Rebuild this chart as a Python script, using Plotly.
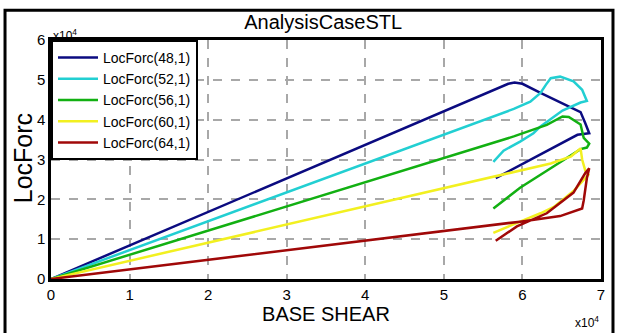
import plotly.graph_objects as go

# values in units of x10^4
names = ["LocForc(48,1)", "LocForc(52,1)", "LocForc(56,1)", "LocForc(60,1)", "LocForc(64,1)"]
colors = ["#0b0b80", "#22cfd2", "#12b012", "#f2f020", "#a00808"]

x48 = [0, 5.82, 5.90, 6.00, 6.23, 6.74, 6.80, 6.85, 6.70, 6.36, 5.97, 5.66]
y48 = [0, 4.90, 4.93, 4.90, 4.67, 4.19, 3.91, 3.66, 3.62, 3.26, 2.86, 2.53]

x52 = [0, 5.89, 6.10, 6.23, 6.30, 6.36, 6.48, 6.65, 6.76, 6.82, 6.74, 6.51, 6.23, 6.14, 5.97, 5.76, 5.63]
y52 = [0, 4.27, 4.45, 4.67, 4.88, 5.04, 5.08, 4.96, 4.75, 4.47, 4.43, 4.23, 3.83, 3.66, 3.45, 3.22, 2.94]

x56 = [0, 5.89, 6.31, 6.51, 6.59, 6.74, 6.78, 6.85, 6.82, 6.74, 6.36, 5.97, 5.63]
y56 = [0, 3.58, 3.87, 4.08, 4.07, 3.88, 3.54, 3.40, 3.30, 3.26, 2.78, 2.29, 1.77]

x60 = [0, 5.46, 6.36, 6.62, 6.74, 6.76, 6.80, 6.84, 6.65, 6.40, 6.23, 5.97, 5.63]
y60 = [0, 2.49, 2.90, 3.08, 3.28, 3.00, 2.72, 2.62, 2.21, 1.81, 1.65, 1.44, 1.16]

x64 = [0, 4.96, 5.46, 5.97, 6.48, 6.76, 6.78, 6.82, 6.85, 6.80, 6.65, 6.44, 6.31, 5.93, 5.66]
y64 = [0, 1.19, 1.32, 1.44, 1.58, 1.77, 1.97, 2.53, 2.78, 2.66, 2.17, 1.85, 1.65, 1.32, 0.96]

xs = [x48, x52, x56, x60, x64]
ys = [y48, y52, y56, y60, y64]

x_ticks = [0, 1, 2, 3, 4, 5, 6, 7]
y_ticks = [0, 1, 2, 3, 4, 5, 6]

SANS = "Liberation Sans, Arial, sans-serif"

fig = go.Figure()
for n, c, x, y in zip(names, colors, xs, ys):
    fig.add_trace(go.Scatter(x=x, y=y, mode="lines", name=n,
                             line=dict(color=c, width=2.5)))

axis_common = dict(showline=True, linecolor="black", linewidth=2.5, mirror=True,
                   showgrid=True, gridcolor="#a8a8a8", gridwidth=1.5, griddash="dash",
                   zeroline=False, ticks="", tickfont=dict(family=SANS, size=15, color="black"))

fig.update_layout(
    width=618, height=333,
    margin=dict(l=51, r=17, t=40, b=45),
    paper_bgcolor="white", plot_bgcolor="white",
    title=dict(text="AnalysisCaseSTL", x=0.523, xanchor="center", y=0.935, yanchor="middle",
               font=dict(family=SANS, size=20, color="black")),
    xaxis=dict(range=[0, 7], tickvals=x_ticks, ticktext=[str(v) for v in x_ticks],
               title=dict(text="BASE SHEAR", font=dict(family=SANS, size=20, color="black"), standoff=4),
               **axis_common),
    yaxis=dict(range=[0, 6], tickvals=y_ticks, ticktext=[str(v) for v in y_ticks],
               **axis_common),
    legend=dict(x=0, y=1, xanchor="left", yanchor="top", bgcolor="white",
                bordercolor="black", borderwidth=2,
                font=dict(family=SANS, size=14, color="black"), itemwidth=40),
    showlegend=True,
)

# y-axis title placed as an annotation for precise position
fig.add_annotation(text="LocForc", xref="paper", yref="paper", x=-0.051, y=0.505,
                   xanchor="center", yanchor="middle", textangle=-90, showarrow=False,
                   font=dict(family=SANS, size=25, color="black"))

fig.add_annotation(text="x10<sup>4</sup>", xref="paper", yref="paper", x=0.0, y=1.0,
                   xanchor="left", yanchor="bottom", yshift=-5, showarrow=False,
                   font=dict(family=SANS, size=12, color="black"))
fig.add_annotation(text="x10<sup>4</sup>", xref="paper", yref="paper", x=0.975, y=-0.14,
                   xanchor="center", yanchor="top", showarrow=False,
                   font=dict(family=SANS, size=12, color="black"))

# outer figure frame
fig.add_shape(type="rect", xref="paper", yref="paper",
              x0=-0.0836, x1=1.0218, y0=-0.25, y1=1.125,
              line=dict(color="black", width=3), layer="below")

fig.write_html("out.html")
